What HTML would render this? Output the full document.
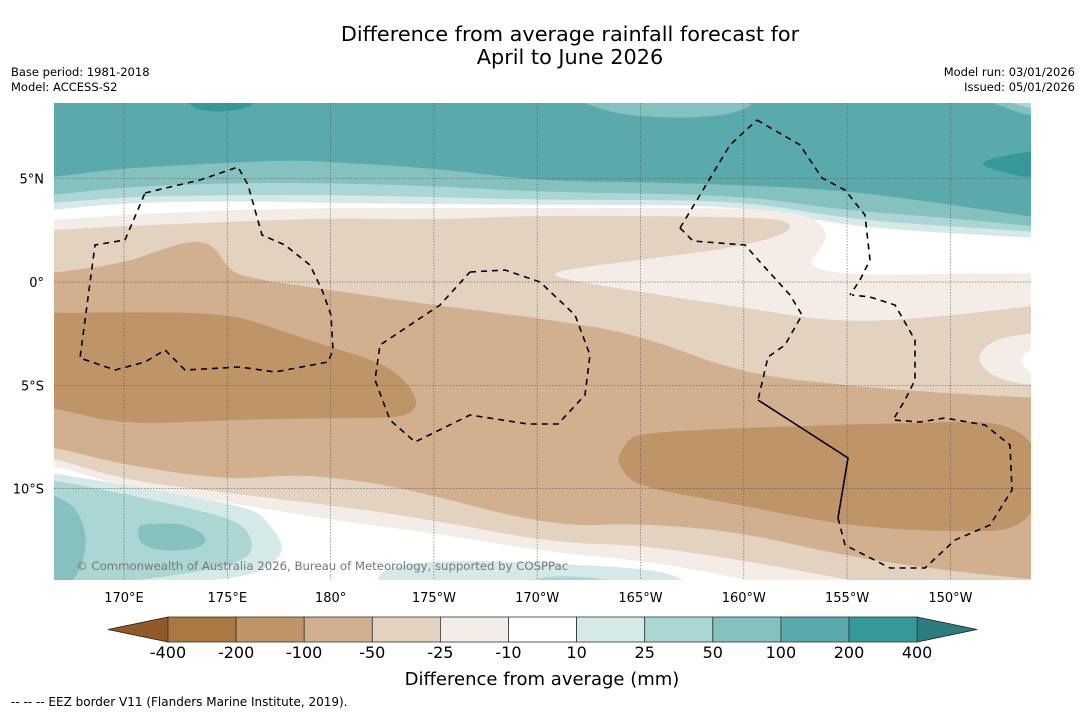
<!DOCTYPE html>
<html><head><meta charset="utf-8"><style>
html,body{margin:0;padding:0;background:#fff;}
body{width:1085px;height:713px;overflow:hidden;font-family:"Liberation Sans","DejaVu Sans",sans-serif;}
svg text{font-family:"DejaVu Sans","Liberation Sans",sans-serif;}
</style></head><body>
<svg id="chart" width="1085" height="713" viewBox="0 0 1085 713" xmlns="http://www.w3.org/2000/svg">
<text x="570" y="41" font-size="20.8" text-anchor="middle" fill="#000">Difference from average rainfall forecast for</text>
<text x="570" y="64" font-size="20.8" text-anchor="middle" fill="#000">April to June 2026</text>
<text x="11" y="76" font-size="11.5">Base period: 1981-2018</text>
<text x="11" y="91" font-size="11.5">Model: ACCESS-S2</text>
<text x="1075" y="76" font-size="11.5" text-anchor="end">Model run: 03/01/2026</text>
<text x="1075" y="91" font-size="11.5" text-anchor="end">Issued: 05/01/2026</text>
<defs><clipPath id="mapclip"><rect x="54" y="103" width="977" height="477"/></clipPath></defs>
<g id="map" clip-path="url(#mapclip)"></g>
<g id="grid"></g>
<g id="eez" clip-path="url(#mapclip)"></g>
<text x="76" y="570" font-size="11.7" fill="#777">© Commonwealth of Australia 2026, Bureau of Meteorology, supported by COSPPac</text>
<g id="lonlabels"></g>
<g id="latlabels"></g>
<g id="cbar"></g>
<text x="542" y="685" font-size="18" text-anchor="middle">Difference from average (mm)</text>
<text x="11" y="706" font-size="12">--  --  -- EEZ border V11 (Flanders Marine Institute, 2019).</text>
</svg>
<script>
// colorbar data
const levelLabels = ["-400","-200","-100","-50","-25","-10","10","25","50","100","200","400"];
const binColors = ["#ac7841","#bf9469","#d2b08f","#e4d2c1","#f4ede7","#ffffff","#d5eae8","#abd6d4","#84c1bf","#5aaaab","#35999a"];
const underColor = "#8f5a28";
const overColor = "#2a7d7c";
const lonTicks = ["170°E","175°E","180°","175°W","170°W","165°W","160°W","155°W","150°W"];
const lonValues = [170,175,180,185,190,195,200,205,210];
const latTicks = ["5°N","0°","5°S","10°S"];
const latValues = [5,0,-5,-10];

const NS="http://www.w3.org/2000/svg";
function mk(tag,attrs,parent){const e=document.createElementNS(NS,tag);for(const k in attrs)e.setAttribute(k,attrs[k]);parent.appendChild(e);return e;}
const lonX = l => 124 + (l-170)*20.66;
const latY = l => 282 - l*20.66;

function smooth(pts){
  let d="M"+pts[0].join(",");
  if(pts.length<3){return d+" L"+pts.slice(1).map(p=>p.join(",")).join(" L");}
  for(let i=1;i<pts.length-1;i++){
    const mx=(pts[i][0]+pts[i+1][0])/2, my=(pts[i][1]+pts[i+1][1])/2;
    d+=` Q${pts[i][0]},${pts[i][1]} ${mx},${my}`;
  }
  d+=" L"+pts[pts.length-1].join(",");
  return d;
}
const map=document.getElementById('map');
function below(pts,color,name){
  const p=mk('path',{d:smooth(pts)+" L1040,590 L45,590 Z",fill:color},map);
  
  
}
function poly(pts,color,name){
  const p=mk('path',{d:smooth(pts.concat([pts[0]]))+" Z",fill:color},map);
  
  
}
const bg=mk('rect',{x:45,y:95,width:1000,height:500,fill:"#5aaaab"},map);


below([[45,177],[54,177],[124,168],[227,163],[290,160],[330,162],[433,168],[540,181],[640,182],[740,185],[840,190],[940,203],[1040,218]],"#84c1bf","band-50-100");
below([[45,195],[54,195],[124,187],[227,183],[330,183],[433,186],[540,192],[740,195],[840,210],[940,217],[1040,227]],"#abd6d4","band-25-50");
below([[45,203],[54,203],[124,197],[227,195],[330,195],[433,197],[540,200],[740,200],[840,218],[940,226],[1040,232]],"#d5eae8","band-10-25");
below([[45,210],[54,210],[124,203],[227,201],[330,203],[433,204],[540,205],[740,205],[840,225],[940,233],[1040,238]],"#ffffff","band-neutral-north");
below([[45,220],[54,220],[124,215],[227,210],[330,208],[433,208],[540,208],[740,208],[790,212],[818,220],[828,235],[820,250],[807,265],[840,275],[940,274],[1040,273]],"#f4ede7","band-minus10-25");
below([[45,230],[54,230],[124,226],[227,222],[330,218],[433,220],[540,215],[740,217],[788,220],[792,232],[740,247],[640,260],[560,270],[550,277],[640,292],[740,307],[840,323],[940,317],[1040,305]],"#e4d2c1","band-minus25-50");
below([[45,273],[54,273],[124,263],[160,250],[190,241],[208,243],[218,252],[226,265],[240,277],[330,290],[433,305],[554,320],[640,335],[740,373],[840,385],[940,393],[1040,398]],"#d2b08f","band-minus50-100");
below([[45,447],[54,447],[124,465],[227,480],[287,475],[330,477],[400,487],[554,527],[640,523],[740,532],[840,555],[940,570],[1040,580]],"#e4d2c1","band-minus25-50-south");
below([[45,458],[54,458],[124,480],[227,493],[330,505],[433,520],[554,543],[640,545],[740,560],[840,578],[900,590]],"#f4ede7","band-minus10-25-south");
below([[45,465],[54,465],[124,487],[227,502],[330,520],[433,533],[554,553],[640,560],[740,578],[800,592]],"#ffffff","band-neutral-south");
poly([[45,313],[124,312],[227,313],[280,330],[330,347],[380,362],[405,380],[417,398],[415,410],[400,418],[330,418],[227,420],[124,425],[54,408],[45,408]],"#bf9469","band-minus100-200-west");
poly([[618,458],[625,442],[640,433],[740,428],[900,423],[1040,421],[1040,530],[940,532],[840,525],[740,505],[640,487],[622,472]],"#bf9469","band-minus100-200-east");
poly([[1040,333],[1010,335],[985,345],[977,360],[990,375],[1015,383],[1040,386]],"#f4ede7","bulge-minus10-25-east");
poly([[1040,345],[1025,352],[1021,362],[1028,372],[1040,375]],"#ffffff","bulge-neutral-east");
poly([[187,100],[190,107],[210,112],[235,111],[252,106],[256,100]],"#35999a","band-200-400-top");
poly([[1040,150],[1005,155],[977,163],[1000,172],[1040,180]],"#35999a","band-200-400-east");
poly([[578,100],[600,110],[640,117],[700,118],[740,112],[760,100]],"#84c1bf","band-50-100-top");
poly([[985,100],[1010,110],[1040,118],[1040,100]],"#84c1bf","band-50-100-corner");
poly([[1005,100],[1020,106],[1040,110],[1040,100]],"#abd6d4","band-25-50-corner");
poly([[1018,100],[1040,104],[1040,100]],"#d5eae8","band-10-25-corner");
poly([[45,473],[54,473],[154,490],[254,508],[270,525],[284,545],[278,560],[254,575],[200,582],[45,590]],"#d5eae8","band-10-25-southwest");
poly([[45,480],[54,480],[154,500],[230,518],[248,530],[254,550],[240,562],[200,572],[100,585],[45,590]],"#abd6d4","band-25-50-southwest");
poly([[45,493],[60,497],[78,510],[88,540],[80,570],[70,585],[45,590]],"#84c1bf","band-50-100-southwest");
poly([[140,525],[170,522],[195,528],[209,540],[195,550],[160,551],[142,545],[137,535]],"#84c1bf","band-50-100-blob");
poly([[375,590],[378,575],[392,566],[450,560],[540,563],[640,568],[675,575],[690,585],[690,590]],"#d5eae8","band-10-25-south");
poly([[510,590],[530,577],[580,576],[620,582],[640,590]],"#abd6d4","band-25-50-south");

const grid=document.getElementById('grid');
lonValues.forEach(v=>{const l=mk('line',{x1:lonX(v),x2:lonX(v),y1:103,y2:580,stroke:"#555","stroke-width":0.7,"stroke-dasharray":"1.5,1.5",opacity:0.8},grid);

});
latValues.forEach(v=>{const l=mk('line',{x1:54,x2:1031,y1:latY(v),y2:latY(v),stroke:"#555","stroke-width":0.7,"stroke-dasharray":"1.5,1.5",opacity:0.8},grid);

});

const eez=document.getElementById('eez');
function line(pts,dash,name){const p=mk('polyline',{points:pts.map(p=>p.join(",")).join(" "),fill:"none",stroke:"#000","stroke-width":1.6,"stroke-dasharray":dash},eez);

}
line([[145,193],[170,187],[200,180],[238,167],[248,185],[262,235],[285,245],[310,265],[322,290],[331,315],[333,350],[328,362],[275,372],[240,367],[185,370],[165,350],[145,362],[115,370],[80,358],[95,245],[125,240],[145,193]],"6,5","eez-tuvalu");
line([[470,272],[505,270],[540,282],[575,315],[590,355],[585,395],[558,424],[528,424],[470,415],[415,442],[390,420],[375,380],[380,345],[440,305],[470,272]],"6,5","eez-tokelau");
line([[757,120],[800,145],[822,178],[845,190],[865,215],[870,260],[860,280],[850,295]],"6,5","eez-kiribati-north");
line([[680,228],[700,195],[730,145],[757,120]],"6,5","eez-kiribati-west");
line([[680,228],[693,241],[745,245],[760,262],[790,295],[802,315],[785,345],[768,357],[758,400]],"6,5","eez-kiribati-central");
line([[758,400],[848,458],[838,518]],"none","eez-solid-border");
line([[838,518],[845,545],[890,568],[925,568],[955,540],[990,525],[1012,490],[1010,445],[985,425],[945,418],[920,422],[893,420],[905,400],[915,380],[915,340],[895,305],[870,297],[852,295]],"6,5","eez-cook-islands");

const lonG=document.getElementById('lonlabels');
lonTicks.forEach((t,i)=>{const e=mk('text',{x:lonX(lonValues[i]),y:602,"font-size":13,"text-anchor":"middle"},lonG);e.textContent=t;

});
const latG=document.getElementById('latlabels');
latTicks.forEach((t,i)=>{const e=mk('text',{x:44,y:latY(latValues[i])+5,"font-size":13,"text-anchor":"end"},latG);e.textContent=t;

});

const cb=document.getElementById('cbar');
const x0=168, cw=68.1, y0=617, ch=25;
const tl=mk('polygon',{points:`${x0},${y0} ${x0-60},${y0+ch/2} ${x0},${y0+ch}`,fill:underColor,stroke:"#222","stroke-width":0.8},cb);


const xe=x0+cw*binColors.length;
const tr=mk('polygon',{points:`${xe},${y0} ${xe+60},${y0+ch/2} ${xe},${y0+ch}`,fill:overColor,stroke:"#222","stroke-width":0.8},cb);


binColors.forEach((c,i)=>{const r=mk('rect',{x:x0+i*cw,y:y0,width:cw,height:ch,fill:c,stroke:"#333","stroke-width":0.8},cb);

});
levelLabels.forEach((t,i)=>{const e=mk('text',{x:x0+i*cw,y:658,"font-size":16,"text-anchor":"middle"},cb);e.textContent=t;

});
</script>
</body></html>
